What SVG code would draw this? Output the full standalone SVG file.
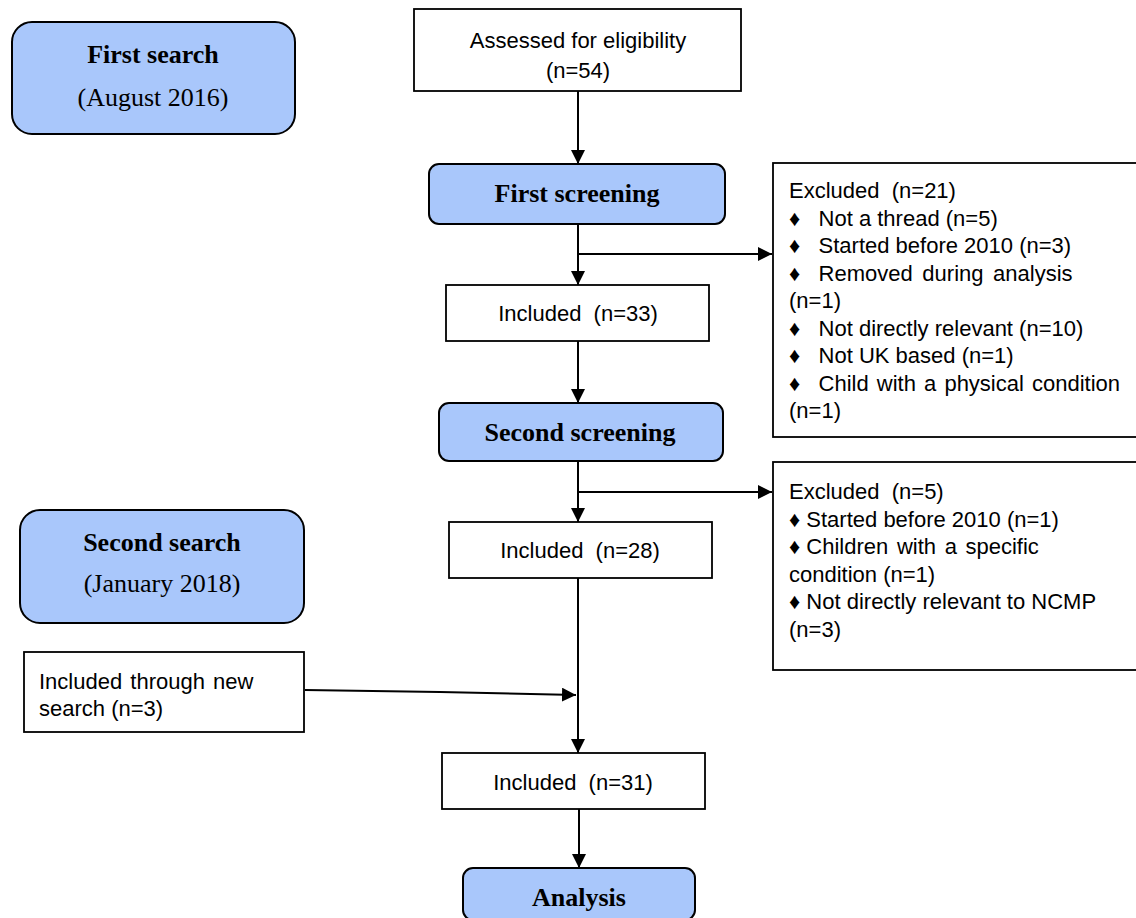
<svg xmlns="http://www.w3.org/2000/svg" width="1136" height="918" viewBox="0 0 1136 918">
<style>
.blue{fill:#a9c7fb;stroke:#000;stroke-width:2}
.box{fill:#fff;stroke:#000;stroke-width:1.8}
.sans{font-family:"Liberation Sans",Arial,sans-serif;font-size:22px;fill:#000;white-space:pre}
.serb{font-family:"Liberation Serif","Times New Roman",serif;font-size:26px;font-weight:bold;fill:#000}
.ser{font-family:"Liberation Serif","Times New Roman",serif;font-size:26px;fill:#000}
.c{text-anchor:middle}
.ln{stroke:#000;stroke-width:2;fill:none}
</style>
<defs>
<marker id="ah" viewBox="0 0 10 10" refX="10" refY="5" markerWidth="7" markerHeight="7" markerUnits="strokeWidth" orient="auto">
<path d="M0,0 L10,5 L0,10 z" fill="#000"/>
</marker>
</defs>
<rect width="1136" height="918" fill="#fff"/>
<g id="first-search">
<rect class="blue" x="12" y="22" width="283" height="112" rx="20"/>
<text class="serb c" x="153" y="63" font-size="24">First search</text>
<text class="ser c" x="153" y="106">(August 2016)</text>
</g>
<g id="assessed">
<rect class="box" x="414" y="9" width="327" height="82"/>
<text class="sans c" x="578" y="48">Assessed for eligibility</text>
<text class="sans c" x="578" y="78">(n=54)</text>
</g>
<g id="first-screening">
<rect class="blue" x="429" y="164" width="296" height="60" rx="10"/>
<text class="serb c" x="577" y="202">First screening</text>
</g>
<g id="excluded-1">
<rect class="box" x="773" y="163" width="370" height="274"/>
<text class="sans" x="789" y="198">Excluded  (n=21)</text>
<text class="sans" x="789" y="225.5">♦   Not a thread (n=5)</text>
<text class="sans" x="789" y="253">♦   Started before 2010 (n=3)</text>
<text class="sans" x="789" y="280.5">♦   Removed<tspan word-spacing="3.5"> during analysis</tspan></text>
<text class="sans" x="789" y="308">(n=1)</text>
<text class="sans" x="789" y="335.5">♦   Not directly relevant (n=10)</text>
<text class="sans" x="789" y="363">♦   Not UK based (n=1)</text>
<text class="sans" x="789" y="390.5">♦   Child<tspan word-spacing="2"> with a physical condition</tspan></text>
<text class="sans" x="789" y="418">(n=1)</text>
</g>
<g id="included-33">
<rect class="box" x="446" y="285" width="263" height="56"/>
<text class="sans c" x="578" y="321">Included  (n=33)</text>
</g>
<g id="second-screening">
<rect class="blue" x="439" y="403" width="284" height="58" rx="10"/>
<text class="serb c" x="580" y="441">Second screening</text>
</g>
<g id="excluded-2">
<rect class="box" x="773" y="462" width="370" height="208"/>
<text class="sans" x="789" y="499">Excluded  (n=5)</text>
<text class="sans" x="789" y="526.5">♦ Started before 2010 (n=1)</text>
<text class="sans" x="789" y="554">♦ Children<tspan word-spacing="2.5"> with a specific</tspan></text>
<text class="sans" x="789" y="581.5">condition (n=1)</text>
<text class="sans" x="789" y="609">♦ Not directly relevant to NCMP</text>
<text class="sans" x="789" y="636.5">(n=3)</text>
</g>
<g id="included-28">
<rect class="box" x="449" y="522" width="263" height="56"/>
<text class="sans c" x="580" y="558">Included  (n=28)</text>
</g>
<g id="second-search">
<rect class="blue" x="20" y="510" width="284" height="113" rx="20"/>
<text class="serb c" x="162" y="551" font-size="24">Second search</text>
<text class="ser c" x="162" y="592">(January 2018)</text>
</g>
<g id="new-search">
<rect class="box" x="24" y="652" width="280" height="80"/>
<text class="sans" x="39" y="689" word-spacing="2">Included through new</text>
<text class="sans" x="39" y="716">search (n=3)</text>
</g>
<g id="included-31">
<rect class="box" x="442" y="753" width="263" height="56"/>
<text class="sans c" x="573" y="790">Included  (n=31)</text>
</g>
<g id="analysis">
<rect class="blue" x="463" y="868" width="232" height="52" rx="10"/>
<text class="serb c" x="579" y="906">Analysis</text>
</g>
<g id="connectors">
<line class="ln" x1="578" y1="91" x2="578" y2="164" marker-end="url(#ah)"/>
<line class="ln" x1="578" y1="224" x2="578" y2="285" marker-end="url(#ah)"/>
<line class="ln" x1="578" y1="254" x2="772" y2="254" marker-end="url(#ah)"/>
<line class="ln" x1="578" y1="341" x2="578" y2="403" marker-end="url(#ah)"/>
<line class="ln" x1="578" y1="461" x2="578" y2="522" marker-end="url(#ah)"/>
<line class="ln" x1="578" y1="492" x2="772" y2="492" marker-end="url(#ah)"/>
<line class="ln" x1="578" y1="578" x2="578" y2="753" stroke-width="2.5" marker-end="url(#ah)"/>
<polyline class="ln" points="305,690 440,692 576,695" marker-end="url(#ah)"/>
<line class="ln" x1="579" y1="809" x2="579" y2="868" marker-end="url(#ah)"/>
</g>
</svg>
